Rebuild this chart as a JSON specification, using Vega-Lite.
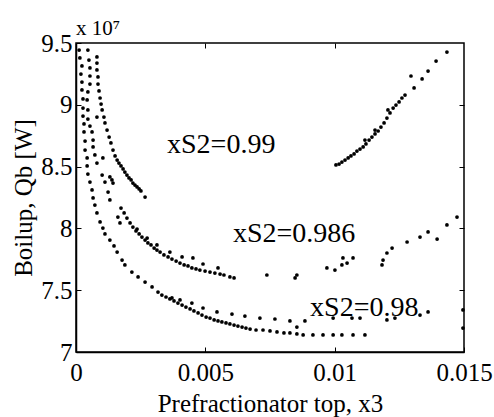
{
  "$schema": "https://vega.github.io/schema/vega-lite/v6.json",
  "width": 388,
  "height": 309,
  "autosize": "none",
  "padding": {"left": 76, "top": 43, "right": 30, "bottom": 65},
  "background": "white",
  "config": {
    "view": {"stroke": "black", "strokeWidth": 1.5},
    "font": "Liberation Serif",
    "axis": {"grid": false, "domainColor": "black", "domainWidth": 1.5, "tickColor": "black", "tickWidth": 1, "tickSize": -5, "labelColor": "black", "labelFont": "Liberation Serif", "labelFontSize": 25, "titleFont": "Liberation Serif", "titleFontSize": 25, "titleFontWeight": "normal", "titleColor": "black"}
  },
  "title": {"text": "x 10⁷", "anchor": "start", "frame": "group", "font": "Liberation Serif", "fontSize": 21, "fontWeight": "normal", "color": "black", "offset": -8},
  "datasets": {
    "pts": [
      {"x":0.00012,"y":9.443,"s":"0.98"},{"x":0.00015,"y":9.379,"s":"0.98"},{"x":0.00023,"y":9.314,"s":"0.98"},{"x":0.00019,"y":9.249,"s":"0.98"},{"x":0.00023,"y":9.184,"s":"0.98"},{"x":0.00023,"y":9.120,"s":"0.98"},{"x":0.00027,"y":9.047,"s":"0.98"},{"x":0.00027,"y":8.974,"s":"0.98"},{"x":0.00027,"y":8.909,"s":"0.98"},{"x":0.00031,"y":8.845,"s":"0.98"},{"x":0.00031,"y":8.780,"s":"0.98"},{"x":0.00035,"y":8.707,"s":"0.98"},{"x":0.00035,"y":8.634,"s":"0.98"},{"x":0.00043,"y":8.570,"s":"0.98"},{"x":0.00043,"y":8.505,"s":"0.98"},{"x":0.00046,"y":8.440,"s":"0.98"},{"x":0.00054,"y":8.375,"s":"0.98"},{"x":0.00062,"y":8.311,"s":"0.98"},{"x":0.00066,"y":8.246,"s":"0.98"},{"x":0.00073,"y":8.189,"s":"0.98"},{"x":0.00081,"y":8.125,"s":"0.98"},{"x":0.00093,"y":8.052,"s":"0.98"},{"x":0.00104,"y":8.003,"s":"0.98"},{"x":0.00112,"y":7.955,"s":"0.98"},{"x":0.00131,"y":7.906,"s":"0.98"},{"x":0.00147,"y":7.858,"s":"0.98"},{"x":0.00159,"y":7.809,"s":"0.98"},{"x":0.00178,"y":7.744,"s":"0.98"},{"x":0.00189,"y":7.704,"s":"0.98"},{"x":0.00216,"y":7.647,"s":"0.98"},{"x":0.00240,"y":7.607,"s":"0.98"},{"x":0.00267,"y":7.566,"s":"0.98"},{"x":0.00294,"y":7.526,"s":"0.98"},{"x":0.00317,"y":7.485,"s":"0.98"},
      {"x":0.00332,"y":7.461,"s":"0.98"},{"x":0.00348,"y":7.445,"s":"0.98"},{"x":0.00363,"y":7.429,"s":"0.98"},{"x":0.00379,"y":7.413,"s":"0.98"},{"x":0.00394,"y":7.396,"s":"0.98"},{"x":0.00410,"y":7.380,"s":"0.98"},{"x":0.00425,"y":7.364,"s":"0.98"},{"x":0.00441,"y":7.348,"s":"0.98"},{"x":0.00456,"y":7.332,"s":"0.98"},{"x":0.00472,"y":7.316,"s":"0.98"},{"x":0.00487,"y":7.299,"s":"0.98"},{"x":0.00503,"y":7.283,"s":"0.98"},{"x":0.00518,"y":7.275,"s":"0.98"},{"x":0.00534,"y":7.259,"s":"0.98"},{"x":0.00549,"y":7.251,"s":"0.98"},{"x":0.00564,"y":7.243,"s":"0.98"},{"x":0.00580,"y":7.235,"s":"0.98"},{"x":0.00595,"y":7.227,"s":"0.98"},{"x":0.00611,"y":7.218,"s":"0.98"},{"x":0.00626,"y":7.210,"s":"0.98"},{"x":0.00642,"y":7.202,"s":"0.98"},{"x":0.00657,"y":7.194,"s":"0.98"},{"x":0.00673,"y":7.186,"s":"0.98"},{"x":0.00696,"y":7.178,"s":"0.98"},{"x":0.00723,"y":7.178,"s":"0.98"},{"x":0.00750,"y":7.170,"s":"0.98"},{"x":0.00777,"y":7.162,"s":"0.98"},{"x":0.00804,"y":7.154,"s":"0.98"},{"x":0.00827,"y":7.154,"s":"0.98"},{"x":0.00854,"y":7.146,"s":"0.98"},{"x":0.00878,"y":7.138,"s":"0.98"},{"x":0.00916,"y":7.138,"s":"0.98"},{"x":0.00955,"y":7.138,"s":"0.98"},{"x":0.00994,"y":7.138,"s":"0.98"},{"x":0.01028,"y":7.138,"s":"0.98"},{"x":0.01071,"y":7.138,"s":"0.98"},{"x":0.01117,"y":7.138,"s":"0.98"},
      {"x":0.00371,"y":7.437,"s":"0.98"},{"x":0.00402,"y":7.421,"s":"0.98"},{"x":0.00448,"y":7.396,"s":"0.98"},{"x":0.00491,"y":7.356,"s":"0.98"},{"x":0.00545,"y":7.324,"s":"0.98"},{"x":0.00603,"y":7.307,"s":"0.98"},{"x":0.00653,"y":7.291,"s":"0.98"},{"x":0.00711,"y":7.275,"s":"0.98"},{"x":0.00769,"y":7.267,"s":"0.98"},{"x":0.00827,"y":7.251,"s":"0.98"},{"x":0.00854,"y":7.202,"s":"0.98"},{"x":0.00885,"y":7.251,"s":"0.98"},{"x":0.00994,"y":7.275,"s":"0.98"},{"x":0.01067,"y":7.275,"s":"0.98"},{"x":0.01098,"y":7.275,"s":"0.98"},
      {"x":0.01202,"y":7.259,"s":"0.98"},{"x":0.01233,"y":7.275,"s":"0.98"},{"x":0.01330,"y":7.299,"s":"0.98"},{"x":0.01361,"y":7.324,"s":"0.98"},{"x":0.01496,"y":7.340,"s":"0.98"},{"x":0.01496,"y":7.194,"s":"0.98"},
      {"x":0.00046,"y":9.443,"s":"0.986"},{"x":0.00050,"y":9.362,"s":"0.986"},{"x":0.00054,"y":9.298,"s":"0.986"},{"x":0.00054,"y":9.233,"s":"0.986"},{"x":0.00054,"y":9.168,"s":"0.986"},{"x":0.00046,"y":9.104,"s":"0.986"},{"x":0.00043,"y":9.039,"s":"0.986"},{"x":0.00046,"y":8.958,"s":"0.986"},{"x":0.00046,"y":8.885,"s":"0.986"},{"x":0.00054,"y":8.828,"s":"0.986"},{"x":0.00062,"y":8.780,"s":"0.986"},{"x":0.00066,"y":8.715,"s":"0.986"},{"x":0.00066,"y":8.659,"s":"0.986"},{"x":0.00073,"y":8.594,"s":"0.986"},{"x":0.00081,"y":8.529,"s":"0.986"},{"x":0.00101,"y":8.432,"s":"0.986"},{"x":0.00112,"y":8.375,"s":"0.986"},{"x":0.00124,"y":8.294,"s":"0.986"},{"x":0.00131,"y":8.230,"s":"0.986"},{"x":0.00162,"y":8.092,"s":"0.986"},{"x":0.00170,"y":8.044,"s":"0.986"},{"x":0.00104,"y":8.570,"s":"0.986"},{"x":0.00131,"y":8.416,"s":"0.986"},{"x":0.00139,"y":8.392,"s":"0.986"},{"x":0.00143,"y":8.367,"s":"0.986"},
      {"x":0.00174,"y":8.165,"s":"0.986"},{"x":0.00186,"y":8.125,"s":"0.986"},{"x":0.00197,"y":8.084,"s":"0.986"},{"x":0.00209,"y":8.044,"s":"0.986"},{"x":0.00220,"y":8.011,"s":"0.986"},{"x":0.00232,"y":7.979,"s":"0.986"},{"x":0.00244,"y":7.955,"s":"0.986"},{"x":0.00255,"y":7.930,"s":"0.986"},{"x":0.00267,"y":7.906,"s":"0.986"},{"x":0.00278,"y":7.882,"s":"0.986"},{"x":0.00290,"y":7.866,"s":"0.986"},{"x":0.00302,"y":7.841,"s":"0.986"},{"x":0.00313,"y":7.825,"s":"0.986"},{"x":0.00325,"y":7.809,"s":"0.986"},{"x":0.00340,"y":7.785,"s":"0.986"},{"x":0.00356,"y":7.769,"s":"0.986"},{"x":0.00371,"y":7.752,"s":"0.986"},{"x":0.00387,"y":7.736,"s":"0.986"},{"x":0.00402,"y":7.720,"s":"0.986"},{"x":0.00418,"y":7.704,"s":"0.986"},{"x":0.00433,"y":7.696,"s":"0.986"},{"x":0.00448,"y":7.680,"s":"0.986"},{"x":0.00464,"y":7.672,"s":"0.986"},{"x":0.00479,"y":7.663,"s":"0.986"},{"x":0.00499,"y":7.655,"s":"0.986"},{"x":0.00518,"y":7.647,"s":"0.986"},{"x":0.00537,"y":7.639,"s":"0.986"},{"x":0.00557,"y":7.631,"s":"0.986"},{"x":0.00572,"y":7.623,"s":"0.986"},
      {"x":0.00236,"y":7.995,"s":"0.986"},{"x":0.00275,"y":7.922,"s":"0.986"},{"x":0.00313,"y":7.866,"s":"0.986"},{"x":0.00363,"y":7.809,"s":"0.986"},{"x":0.00410,"y":7.769,"s":"0.986"},{"x":0.00452,"y":7.761,"s":"0.986"},{"x":0.00491,"y":7.712,"s":"0.986"},{"x":0.00549,"y":7.680,"s":"0.986"},{"x":0.00595,"y":7.607,"s":"0.986"},{"x":0.00611,"y":7.599,"s":"0.986"},
      {"x":0.00738,"y":7.623,"s":"0.986"},{"x":0.00847,"y":7.599,"s":"0.986"},{"x":0.00854,"y":7.623,"s":"0.986"},{"x":0.00970,"y":7.680,"s":"0.986"},{"x":0.01001,"y":7.663,"s":"0.986"},{"x":0.01028,"y":7.704,"s":"0.986"},{"x":0.01032,"y":7.761,"s":"0.986"},{"x":0.01048,"y":7.720,"s":"0.986"},{"x":0.01071,"y":7.761,"s":"0.986"},{"x":0.01183,"y":7.704,"s":"0.986"},{"x":0.01187,"y":7.744,"s":"0.986"},{"x":0.01202,"y":7.801,"s":"0.986"},{"x":0.01222,"y":7.841,"s":"0.986"},{"x":0.01280,"y":7.890,"s":"0.986"},{"x":0.01330,"y":7.930,"s":"0.986"},{"x":0.01361,"y":7.971,"s":"0.986"},{"x":0.01396,"y":7.914,"s":"0.986"},{"x":0.01434,"y":8.028,"s":"0.986"},{"x":0.01473,"y":8.092,"s":"0.986"},
      {"x":0.00081,"y":9.387,"s":"0.99"},{"x":0.00081,"y":9.338,"s":"0.99"},{"x":0.00081,"y":9.282,"s":"0.99"},{"x":0.00085,"y":9.225,"s":"0.99"},{"x":0.00085,"y":9.168,"s":"0.99"},{"x":0.00089,"y":9.112,"s":"0.99"},{"x":0.00093,"y":9.055,"s":"0.99"},{"x":0.00097,"y":9.006,"s":"0.99"},{"x":0.00101,"y":8.958,"s":"0.99"},{"x":0.00108,"y":8.901,"s":"0.99"},{"x":0.00112,"y":8.853,"s":"0.99"},{"x":0.00120,"y":8.796,"s":"0.99"},{"x":0.00128,"y":8.739,"s":"0.99"},{"x":0.00135,"y":8.691,"s":"0.99"},{"x":0.00143,"y":8.634,"s":"0.99"},{"x":0.00151,"y":8.586,"s":"0.99"},{"x":0.00159,"y":8.553,"s":"0.99"},{"x":0.00166,"y":8.529,"s":"0.99"},{"x":0.00174,"y":8.505,"s":"0.99"},{"x":0.00182,"y":8.481,"s":"0.99"},{"x":0.00189,"y":8.456,"s":"0.99"},{"x":0.00197,"y":8.432,"s":"0.99"},{"x":0.00205,"y":8.408,"s":"0.99"},{"x":0.00213,"y":8.392,"s":"0.99"},{"x":0.00220,"y":8.367,"s":"0.99"},{"x":0.00228,"y":8.351,"s":"0.99"},{"x":0.00236,"y":8.335,"s":"0.99"},{"x":0.00244,"y":8.319,"s":"0.99"},{"x":0.00251,"y":8.303,"s":"0.99"},{"x":0.00267,"y":8.254,"s":"0.99"},{"x":0.00081,"y":8.901,"s":"0.99"},
      {"x":0.01005,"y":8.513,"s":"0.99"},{"x":0.01017,"y":8.521,"s":"0.99"},{"x":0.01028,"y":8.537,"s":"0.99"},{"x":0.01040,"y":8.553,"s":"0.99"},{"x":0.01052,"y":8.570,"s":"0.99"},{"x":0.01063,"y":8.586,"s":"0.99"},{"x":0.01075,"y":8.602,"s":"0.99"},{"x":0.01086,"y":8.626,"s":"0.99"},{"x":0.01098,"y":8.642,"s":"0.99"},{"x":0.01110,"y":8.659,"s":"0.99"},{"x":0.01121,"y":8.683,"s":"0.99"},{"x":0.01133,"y":8.715,"s":"0.99"},{"x":0.01144,"y":8.739,"s":"0.99"},{"x":0.01156,"y":8.764,"s":"0.99"},{"x":0.01168,"y":8.788,"s":"0.99"},{"x":0.01179,"y":8.820,"s":"0.99"},{"x":0.01191,"y":8.853,"s":"0.99"},{"x":0.01202,"y":8.893,"s":"0.99"},{"x":0.01214,"y":8.934,"s":"0.99"},{"x":0.01226,"y":8.974,"s":"0.99"},{"x":0.01237,"y":8.998,"s":"0.99"},{"x":0.01249,"y":9.023,"s":"0.99"},{"x":0.01260,"y":9.055,"s":"0.99"},{"x":0.01272,"y":9.079,"s":"0.99"},{"x":0.01117,"y":8.715,"s":"0.99"},{"x":0.01156,"y":8.796,"s":"0.99"},{"x":0.01206,"y":8.958,"s":"0.99"},
      {"x":0.01295,"y":9.233,"s":"0.99"},{"x":0.01307,"y":9.136,"s":"0.99"},{"x":0.01338,"y":9.209,"s":"0.99"},{"x":0.01361,"y":9.273,"s":"0.99"},{"x":0.01392,"y":9.354,"s":"0.99"},{"x":0.01434,"y":9.427,"s":"0.99"}
    ],
    "labels": [
      {"x":0.00352,"y":8.610,"t":"xS2=0.99"},
      {"x":0.00607,"y":7.890,"t":"xS2=0.986"},
      {"x":0.00905,"y":7.291,"t":"xS2=0.98"}
    ]
  },
  "layer": [
    {
      "data": {"name": "pts"},
      "mark": {"type": "circle", "size": 14, "color": "black", "opacity": 1},
      "encoding": {
        "x": {"field": "x", "type": "quantitative", "scale": {"domain": [0, 0.015], "nice": false, "zero": false},
              "axis": {"orient": "bottom", "values": [0, 0.005, 0.01, 0.015], "labelExpr": "datum.value == 0 ? '0' : format(datum.value, '.3~f')", "title": "Prefractionator top, x3", "labelPadding": 13, "titlePadding": 6, "labelFlush": false, "labelOverlap": false}},
        "y": {"field": "y", "type": "quantitative", "scale": {"domain": [7, 9.5], "nice": false, "zero": false},
              "axis": {"orient": "left", "values": [7, 7.5, 8, 8.5, 9, 9.5], "format": "~g", "title": "Boilup, Qb [W]", "labelPadding": 9, "titlePadding": 4, "labelFlush": false, "labelOverlap": false}}
      }
    },
    {
      "data": {"name": "labels"},
      "mark": {"type": "text", "align": "left", "baseline": "alphabetic", "fontSize": 28, "font": "Liberation Serif", "color": "black"},
      "encoding": {
        "x": {"field": "x", "type": "quantitative", "scale": {"domain": [0, 0.015], "nice": false, "zero": false},
              "axis": {"orient": "top", "values": [0.005, 0.01], "labels": false, "title": null, "domain": false}},
        "y": {"field": "y", "type": "quantitative", "scale": {"domain": [7, 9.5], "nice": false, "zero": false},
              "axis": {"orient": "right", "values": [7.5, 8, 8.5, 9], "labels": false, "title": null, "domain": false}},
        "text": {"field": "t"}
      }
    }
  ],
  "resolve": {"axis": {"x": "independent", "y": "independent"}}
}
